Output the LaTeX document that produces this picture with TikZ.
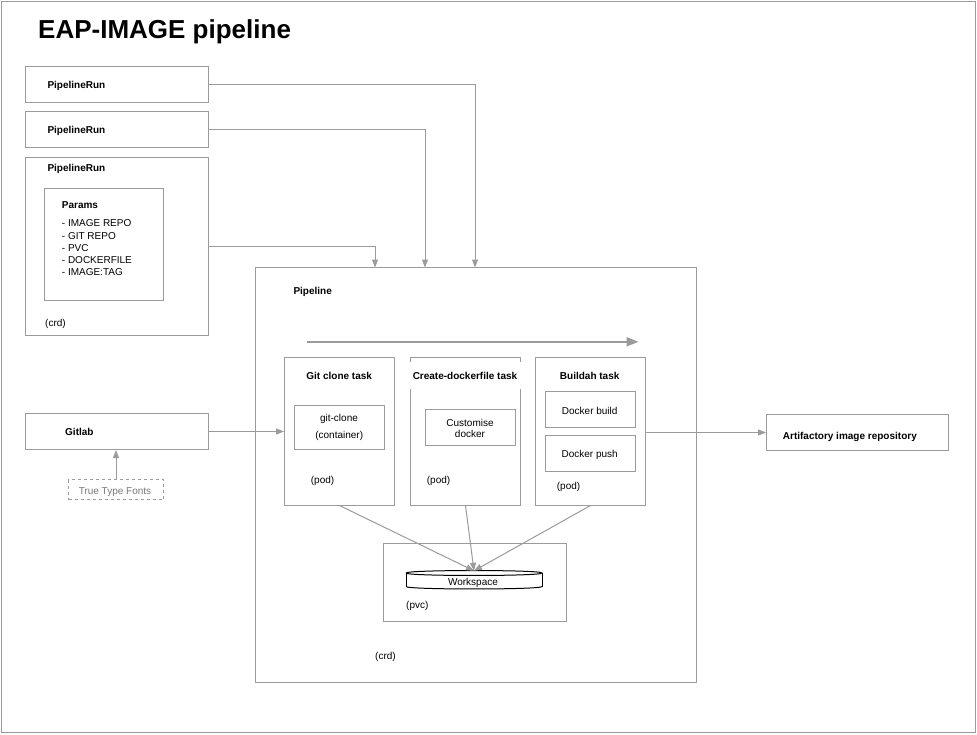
\documentclass[tikz,border=0pt]{standalone}
\usepackage{fontspec}
\setmainfont{Liberation Sans}
\usetikzlibrary{arrows.meta}
\definecolor{lineg}{RGB}{155,155,155}
\definecolor{txtg}{RGB}{120,120,120}
\begin{document}
\begin{tikzpicture}[x=1pt,y=-1pt,
  box/.style={draw=lineg, line width=1pt, inner sep=0pt, fill=white},
  txt/.style={inner sep=0pt, anchor=base west, yshift=-0.8pt, font=\fontsize{10}{12}\selectfont},
  btxt/.style={txt, font=\fontsize{10}{12}\selectfont\bfseries},
  ctxt/.style={txt, anchor=base},
  cbtxt/.style={btxt, anchor=base},
  conn/.style={draw=lineg, line width=1pt, -{Triangle[length=8pt,width=6pt]}},
]
\useasboundingbox (0,0) rectangle (977,734);
\draw[lineg, line width=1pt] (1.5,1.5) rectangle (975.5,732.5);

\node[inner sep=0pt, anchor=base west, font=\fontsize{26}{31}\selectfont\bfseries] (title) at (38,38.3) {EAP-IMAGE pipeline};

% PipelineRun boxes
\node[box, minimum width=183pt, minimum height=36pt] (pr1) at (117,84.5) {};
\node[box, minimum width=183pt, minimum height=36pt] (pr2) at (117,129.5) {};
\node[box, minimum width=183pt, minimum height=178pt] (pr3) at (117,246.5) {};
\node[btxt] (pr1t) at (47.3,87.5) {PipelineRun};
\node[btxt] (pr2t) at (47.3,132.7) {PipelineRun};
\node[btxt] (pr3t) at (47.3,170.5) {PipelineRun};
\node[box, minimum width=119pt, minimum height=111.5pt] (params) at (104,244.25) {};
\node[btxt] (paramst) at (61.7,207.5) {Params};
\node[txt] (p1) at (61.7,226) {- IMAGE REPO};
\node[txt] (p2) at (61.7,238.2) {- GIT REPO};
\node[txt] (p3) at (61.7,250.4) {- PVC};
\node[txt] (p4) at (61.7,262.6) {- DOCKERFILE};
\node[txt] (p5) at (61.7,274.8) {- IMAGE:TAG};
\node[txt] (pr3crd) at (45,325.5) {(crd)};

% Pipeline
\node[box, minimum width=441pt, minimum height=415pt] (pipe) at (476,475) {};
\node[btxt] (pipet) at (293.3,294) {Pipeline};
\node[txt] (pipecrd) at (375,659) {(crd)};
\coordinate (flowa) at (306.7,341.8);
\coordinate (flowb) at (638.5,341.8);
\draw[lineg, line width=2pt, -{Triangle[length=12pt,width=9pt]}] (flowa) -- (flowb);

% Tasks
\node[box, minimum width=110pt, minimum height=148pt] (gtask) at (339.5,431) {};
\node[box, minimum width=110pt, minimum height=148pt] (ctask) at (465.5,431) {};
\node[box, minimum width=110pt, minimum height=148pt] (btask) at (590.5,431) {};
\node[cbtxt] (gtaskt) at (339.2,378.5) {Git clone task};
\node[fill=white, inner sep=0pt, minimum width=113pt, minimum height=27pt, font=\fontsize{10}{12}\selectfont\bfseries] (ctaskt) at (465,375.5) {Create-dockerfile task};
\node[cbtxt] (btaskt) at (589.7,378.5) {Buildah task};

\node[box, minimum width=90pt, minimum height=44pt] (gc) at (339.5,427.5) {};
\node[ctxt] (gc1) at (339,420.5) {git-clone};
\node[ctxt] (gc2) at (339.2,437.5) {(container)};
\node[txt] (gpod) at (310.7,482.5) {(pod)};

\node[box, minimum width=90pt, minimum height=36.5pt] (cust) at (470.5,427.25) {};
\node[ctxt] (cust1) at (470,425.5) {Customise};
\node[ctxt] (cust2) at (470,437) {docker};
\node[txt] (cpod) at (426.7,482.5) {(pod)};

\node[box, minimum width=90pt, minimum height=36pt] (dbuild) at (590.5,409) {};
\node[ctxt] (dbuildt) at (589.7,413.5) {Docker build};
\node[box, minimum width=90pt, minimum height=36pt] (dpush) at (590.5,453.3) {};
\node[ctxt] (dpusht) at (589.7,456.5) {Docker push};
\node[txt] (bpod) at (556.7,489) {(pod)};

% Workspace
\node[box, minimum width=183pt, minimum height=78pt] (wsbox) at (475,582.5) {};
\node[inner sep=0pt, minimum width=136pt, minimum height=18pt] (ws) at (474,580) {};
\fill[white] (406,573) rectangle (542,586.5);
\draw[black, line width=1pt] (406,573) -- (406,586.5);
\draw[black, line width=1pt] (542,573) -- (542,586.5);
\draw[black, line width=1pt] (406,586.5) .. controls (406,589.8) and (542,589.8) .. (542,586.5);
\draw[black, line width=1pt, fill=white] (406,573) .. controls (406,569.7) and (542,569.7) .. (542,573)
   .. controls (542,576.3) and (406,576.3) .. (406,573);
\node[ctxt] (wst) at (473,585) {Workspace};
\node[txt] (pvc) at (406,608) {(pvc)};

% Gitlab, fonts, artifactory
\node[box, minimum width=183pt, minimum height=36pt] (gitlab) at (117,431.5) {};
\node[btxt] (gitlabt) at (65,435) {Gitlab};
\node[draw=lineg, dashed, line width=0.8pt, inner sep=0pt, minimum width=95pt, minimum height=20pt] (ttf) at (116,489.5) {};
\node[ctxt, text=txtg] (ttft) at (115,493.5) {True Type Fonts};
\node[box, minimum width=182pt, minimum height=36pt] (art) at (857.5,432.5) {};
\node[btxt] (artt) at (782.7,438.3) {Artifactory image repository};

% Connectors
\coordinate (in1) at (475,267.5);
\coordinate (in2) at (425,267.5);
\coordinate (in3) at (375,267.5);
\draw[conn] (pr1.east) -| (in1);
\draw[conn] (pr2.east) -| (in2);
\draw[conn] (pr3.east) -| (in3);
\draw[conn] (gitlab.east) -- (gitlab.east -| gtask.west);
\draw[conn] (ttf.north) -- (gitlab.south -| ttf.north);
\draw[conn] (btask.east |- art.west) -- (art.west);
\draw[conn] (gtask.south) -- (ws.north);
\draw[conn] (ctask.south) -- (ws.north);
\draw[conn] (btask.south) -- (ws.north);
\end{tikzpicture}
\end{document}
